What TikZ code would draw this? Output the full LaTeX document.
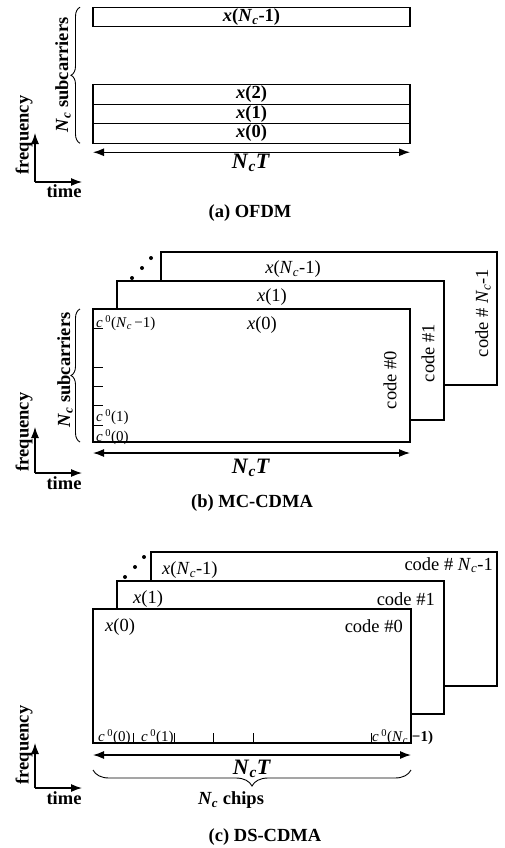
\documentclass[tikz,border=0pt]{standalone}
\usepackage{fontspec}
\setmainfont{Liberation Serif}
\usetikzlibrary{arrows.meta, positioning, calc, decorations.pathreplacing}
\newcommand{\Nc}{\textit{N}\textsubscript{\textit{c}}}
\newcommand{\cz}{\textit{c}\,\textsuperscript{0}}
\tikzset{
  slab/.style={rectangle, draw=black, line width=1.2pt, fill=white, outer sep=0pt,
               inner sep=0pt, minimum width=317pt, minimum height=19.5pt,
               font=\fontsize{18.5pt}{20pt}\selectfont\bfseries},
  sheet/.style={rectangle, draw=black, line width=1.2pt, fill=white, outer sep=0pt,
                inner sep=0pt, anchor=north west},
  lbl/.style={font=\fontsize{18.5pt}{20pt}\selectfont, inner sep=0pt},
  boldlbl/.style={font=\fontsize{18.5pt}{20pt}\selectfont\bfseries, inner sep=0pt},
  biglbl/.style={font=\fontsize{22pt}{24pt}\selectfont\bfseries, inner sep=0pt},
  chiplbl/.style={font=\fontsize{15pt}{17pt}\selectfont, inner sep=0pt, anchor=west},
  dimarrow/.style={{Latex[length=11pt,width=8pt]}-{Latex[length=11pt,width=8pt]}, line width=1.2pt},
  axisarrow/.style={-{Latex[length=11pt,width=8pt]}, line width=1.2pt},
  bracemark/.style={decorate, decoration={brace, amplitude=9pt}, line width=0.9pt},
  tickmark/.style={line width=0.9pt},
  dotmark/.style={circle, fill=black, inner sep=0pt, minimum size=4pt}
}
\begin{document}
\begin{tikzpicture}[x=1pt, y=-1pt]
  \useasboundingbox (0,0) rectangle (505,848);

  % (a) OFDM
  \node[slab] (a0) at (251.5,133.5) {\textit{x}(0)};
  \node[slab, above=0pt of a0] (a1) {\textit{x}(1)};
  \node[slab, above=0pt of a1] (a2) {\textit{x}(2)};
  \node[slab, above=58pt of a2] (aN) {\textit{x}(\Nc-1)};

  \draw[dimarrow] ([yshift=-9pt]a0.south west) -- ([yshift=-9pt]a0.south east);
  \node[biglbl] (aT) at (251,163) {\textit{N}\textsubscript{\textit{c}}\textit{T}};
  \draw[bracemark] ([xshift=-13pt]a0.south west) -- ([xshift=-13pt]aN.north west);
  \node[boldlbl, rotate=90] (aSub) at (63,75) {\Nc{} subcarriers};

  \coordinate (aO) at (35,182);
  \draw[axisarrow] (aO) -- ++(0,-49);
  \draw[axisarrow] (aO) -- ++(47,0);
  \node[boldlbl, rotate=90] (aF) at ($(aO)+(-11,-47)$) {frequency};
  \node[boldlbl] (aTime) at ($(aO)+(29,9)$) {time};
  \node[boldlbl] (capA) at (250,213) {(a) OFDM};

  % (b) MC-CDMA
  \node[sheet, minimum width=336pt, minimum height=133pt] (b2) at (161,252) {};
  \node[sheet, minimum width=327pt, minimum height=139pt] (b1) at (117,281) {};
  \node[sheet, minimum width=317pt, minimum height=133pt] (b0) at (93,309) {};
  \node[dotmark] (bd1) at (132,278) {};
  \node[dotmark] (bd2) at (142,268) {};
  \node[dotmark] (bd3) at (151,258) {};

  \node[lbl] (b2x) at (293,269) {\textit{x}(\Nc-1)};
  \node[lbl] (b1x) at (272,297) {\textit{x}(1)};
  \node[lbl] (b0x) at (262,325) {\textit{x}(0)};
  \node[lbl, rotate=90] (b0c) at (390,380) {code \#0};
  \node[lbl, rotate=90] (b1c) at (428,353) {code \#1};
  \node[lbl, rotate=90] (b2c) at (483,313) {code \# \Nc-1};

  \foreach \ty in {328,367,386,405,425}
    \draw[tickmark] (93,\ty) -- ++(10,0);
  \node[chiplbl] (bcN) at (96,323) {\cz(\Nc\,−1)};
  \node[chiplbl] (bc1) at (96,417) {\cz(1)};
  \node[chiplbl] (bc0) at (96,437) {\cz(0)};

  \draw[dimarrow] ([yshift=-11pt]b0.south west) -- ([yshift=-11pt]b0.south east);
  \node[biglbl] (bT) at (251,468) {\textit{N}\textsubscript{\textit{c}}\textit{T}};
  \draw[bracemark] ([xshift=-13pt]b0.south west) -- ([xshift=-13pt]b0.north west);
  \node[boldlbl, rotate=90] (bSub) at (65,370) {\Nc{} subcarriers};

  \coordinate (bO) at (35,473);
  \draw[axisarrow] (bO) -- ++(0,-46);
  \draw[axisarrow] (bO) -- ++(47,0);
  \node[boldlbl, rotate=90] (bF) at ($(bO)+(-11,-41)$) {frequency};
  \node[boldlbl] (bTime) at ($(bO)+(29,10)$) {time};
  \node[boldlbl] (capB) at (252,503) {(b) MC-CDMA};

  % (c) DS-CDMA
  \node[sheet, minimum width=346pt, minimum height=134pt] (c2) at (151,552) {};
  \node[sheet, minimum width=327pt, minimum height=133pt] (c1) at (117,581) {};
  \node[sheet, minimum width=318pt, minimum height=134pt] (c0) at (93,609) {};
  \node[dotmark] (cd1) at (125,577) {};
  \node[dotmark] (cd2) at (135,567) {};
  \node[dotmark] (cd3) at (144,557) {};

  \node[lbl, anchor=west] (c2x) at (162,570) {\textit{x}(\Nc-1)};
  \node[lbl, anchor=west] (c1x) at (133,599) {\textit{x}(1)};
  \node[lbl, anchor=west] (c0x) at (105,627) {\textit{x}(0)};
  \node[lbl, anchor=east] (c2c) at (493,565) {code \# \Nc-1};
  \node[lbl, anchor=east] (c1c) at (435,599) {code \#1};
  \node[lbl, anchor=east] (c0c) at (403,626) {code \#0};

  \foreach \tx in {133,174,213,253,371}
    \draw[tickmark] (\tx,743) -- ++(0,-10);
  \node[chiplbl] (cc0) at (98,737) {\cz(0)};
  \node[chiplbl] (cc1) at (141,737) {\cz(1)};
  \node[chiplbl] (ccN) at (372,737) {\cz(\Nc\hspace{4pt}\textbf{−1)}};

  \draw[dimarrow] ([yshift=-12pt]c0.south west) -- ([yshift=-12pt]c0.south east);
  \node[biglbl] (cT) at (252,769) {\textit{N}\textsubscript{\textit{c}}\textit{T}};
  \draw[bracemark, decoration={amplitude=16pt}] ([yshift=-27pt]c0.south east) -- ([yshift=-27pt]c0.south west);
  \node[boldlbl] (cChips) at (231,800) {\Nc{} chips};

  \coordinate (cO) at (35,788);
  \draw[axisarrow] (cO) -- ++(0,-45);
  \draw[axisarrow] (cO) -- ++(47,0);
  \node[boldlbl, rotate=90] (cF) at ($(cO)+(-11,-43)$) {frequency};
  \node[boldlbl] (cTime) at ($(cO)+(29,10)$) {time};
  \node[boldlbl] (capC) at (265,837) {(c) DS-CDMA};
\end{tikzpicture}
\end{document}
